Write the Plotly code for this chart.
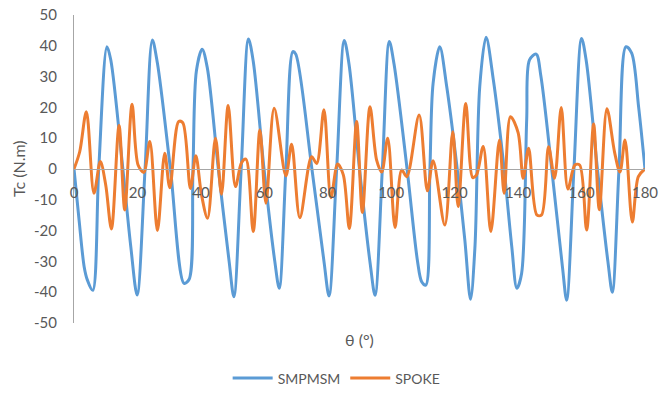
import plotly.graph_objects as go

# SMPMSM cogging torque (blue)
smp_theta = [0, 1.6, 3.2, 4.2, 5.9, 7.8, 10.4, 11.6, 15.4, 17.9, 19.9, 22.4, 24.7, 26.3, 30.4,
             34.7, 36.3, 37.5, 38.6, 40.4, 42.0, 45.5, 48.9, 50.4, 52.7, 55.0, 56.5, 59.9,
             63.3, 64.7, 66.8, 69.0, 69.9, 75.0, 78.8, 80.4, 82.8, 85.2, 86.7, 90.0, 93.4,
             94.9, 97.2, 99.4, 100.9, 105.0, 108.3, 109.6, 110.9, 112.2, 113.2, 115.3, 117.5,
             120.6, 123.2, 125.0, 126.4, 127.9, 129.9, 132.2, 135.4, 138.0, 139.6, 141.1,
             142.7, 143.6, 145.7, 147.2, 150.6, 154.0, 155.3, 157.6, 160.0, 161.5, 165.0,
             168.3, 169.7, 171.8, 174.0, 175.8, 178.0, 180.0]
smp_tc = [0, -16.6, -31.7, -36.0, -39.4, 0, 39.7, 35.4, 0, -25.2, -40.9, 0, 41.9, 34.3, 0,
          -37.1, -35.8, 0, 32.0, 38.9, 33.0, 0, -30.0, -41.5, 0, 42.2, 35.0, 0,
          -30.0, -38.7, 0, 38.1, 37.3, 0, -30.0, -41.2, 0, 41.7, 34.0, 0, -31.0,
          -41.0, 0, 41.4, 34.0, 0, -30.0, -36.6, -37.7, 0, 27.8, 39.7, 26.7,
          1.8, -23.0, -42.3, -25.2, 26.7, 42.8, 28.9, 1.8, -25.2, -38.7, -33.9,
          15.9, 35.4, 37.3, 30.0, 0, -32.0, -42.6, 0, 42.4, 35.0, 0,
          -30.0, -40.0, 0, 39.7, 37.6, 20.0, 0]

# SPOKE cogging torque (orange)
spk_theta = [0, 1.8, 3.9, 6.3, 8.3, 10.0, 11.8, 14.2, 16.0, 18.3, 20.2, 22.0, 23.9, 26.3, 28.6,
             30.2, 33.0, 34.3, 36.7, 38.4, 40.2, 42.1, 44.6, 46.5, 48.6, 50.9, 52.8, 54.2,
             56.5, 58.6, 60.5, 63.1, 66.8, 68.6, 71.2, 74.9, 76.5, 78.8, 81.0, 83.1, 84.9,
             86.8, 89.1, 90.9, 93.3, 95.4, 97.0, 98.9, 101.2, 103.3, 104.9, 108.8, 111.4,
             113.2, 116.9, 119.4, 121.1, 123.5, 125.7, 126.9, 129.0, 131.4, 134.1, 135.6,
             137.6, 140.0, 141.6, 143.3, 145.9, 147.4, 149.6, 151.5, 153.6, 155.7, 157.9,
             159.4, 161.6, 163.8, 165.6, 168.0, 170.4, 172.1, 173.7, 176.0, 177.9, 180.0]
spk_tc = [0, 5.6, 18.6, -7.9, 2.4, -5.2, -19.5, 14.1, -13.3, 21.0, 1.3, -1.1, 8.9, -20.0, 5.1,
          -6.1, 15.4, 15.0, -6.3, 4.3, -8.4, -16.0, 10.0, -8.2, 20.6, -5.7, 2.0, 3.2,
          -20.3, 12.7, -11.1, 19.7, -2.2, 8.0, -15.8, 4.0, 1.8, 19.2, -9.3, 1.6, -1.9,
          -19.3, 15.4, -14.1, 20.2, 2.9, -1.0, 10.0, -19.0, -0.3, -2.5, 17.5, -7.1,
          2.7, -18.2, 12.1, -12.2, 21.3, -2.8, -1.9, 7.3, -20.3, 9.4, -7.9,
          17.0, 11.8, -3.0, 6.7, -14.9, -14.9, 7.2, -3.0, 20.0, -6.5, 1.3,
          1.3, -19.8, 14.6, -13.2, 19.6, 5.5, -1.0, 9.4, -17.2, -2.5, 0]

x_ticks = [0, 20, 40, 60, 80, 100, 120, 140, 160, 180]
y_ticks = [-50, -40, -30, -20, -10, 0, 10, 20, 30, 40, 50]

FONT = "Lato"
GRAY = "#595959"
AXIS = "#a6a6a6"

fig = go.Figure()
fig.add_trace(go.Scatter(x=smp_theta, y=smp_tc, mode="lines", name="SMPMSM",
                         line=dict(color="#5B9BD5", width=3, shape="spline", smoothing=0.9)))
fig.add_trace(go.Scatter(x=spk_theta, y=spk_tc, mode="lines", name="SPOKE",
                         line=dict(color="#ED7D31", width=3, shape="spline", smoothing=0.9)))

fig.update_layout(
    width=665, height=403,
    margin=dict(l=74, r=20, t=15, b=80, autoexpand=False),
    paper_bgcolor="white", plot_bgcolor="white",
    font=dict(family=FONT, color=GRAY, size=15),
    showlegend=True,
    legend=dict(orientation="h", x=0.46, xanchor="center", y=-0.18, yanchor="middle",
                font=dict(size=14, color=GRAY, family=FONT), itemwidth=40,
                bgcolor="rgba(0,0,0,0)"),
    xaxis=dict(range=[0, 180], tickvals=x_ticks, ticktext=[str(v) for v in x_ticks],
               showgrid=False, zeroline=False, showline=True, linecolor=AXIS, linewidth=1,
               anchor="free", position=0.5, ticks="outside", ticklen=10, automargin=False,
               tickcolor="rgba(0,0,0,0)", tickfont=dict(size=15, color=GRAY)),
    yaxis=dict(range=[-50, 50], tickvals=y_ticks, ticktext=[str(v) for v in y_ticks],
               showgrid=False, zeroline=False, showline=True, linecolor=AXIS, linewidth=1,
               ticks="outside", ticklen=13, tickcolor="rgba(0,0,0,0)", automargin=False,
               tickfont=dict(size=15, color=GRAY)),
    annotations=[
        dict(text="θ (°)", xref="paper", yref="paper", x=0.50, y=-0.055,
             xanchor="center", yanchor="middle", showarrow=False,
             font=dict(size=16, color=GRAY, family=FONT)),
        dict(text="Tc (N.m)", xref="paper", yref="paper", x=-0.098, y=0.5,
             xanchor="center", yanchor="middle", textangle=-90, showarrow=False,
             font=dict(size=16, color=GRAY, family=FONT)),
    ],
)

fig.write_html("out.html")
